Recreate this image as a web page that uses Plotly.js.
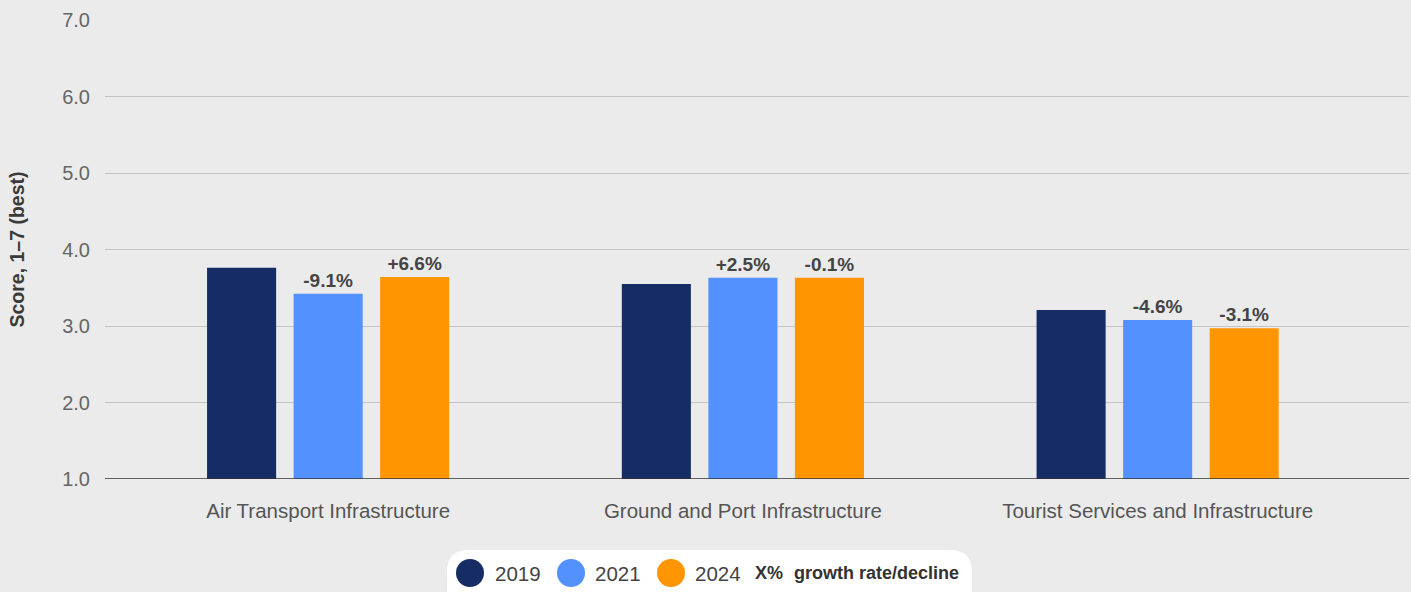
<!DOCTYPE html>
<html>
<head>
<meta charset="utf-8">
<script src="https://cdn.plot.ly/plotly-3.0.1.min.js"></script>
<style>
html,body{margin:0;padding:0;background:#ebebeb;}
#chart{width:1411px;height:592px;}
</style>
</head>
<body>
<div id="chart"></div>
<script>
// ---- data ----
const categories = ["Air Transport Infrastructure", "Ground and Port Infrastructure", "Tourist Services and Infrastructure"];
const years = ["2019", "2021", "2024"];
const scores2019 = [3.76, 3.55, 3.21];
const scores2021 = [3.42, 3.63, 3.08];
const scores2024 = [3.64, 3.63, 2.97];
const growth2021 = ["-9.1%", "+2.5%", "-4.6%"];
const growth2024 = ["+6.6%", "-0.1%", "-3.1%"];
const yTickVals = [1, 2, 3, 4, 5, 6, 7];
const yTickText = ["1.0", "2.0", "3.0", "4.0", "5.0", "6.0", "7.0"];
const legendNote = ["X%", "growth rate/decline"];

// ---- style ----
const colors = ["#152d64", "#5291ff", "#ff9500"];
const FONT = "Liberation Sans, Arial, sans-serif";
const W = 1411, H = 592;
const M = {l: 105, r: 2, t: 20, b: 113};
const plotW = W - M.l - M.r, plotH = H - M.t - M.b;
const px = x => (x - M.l) / plotW;
const py = y => (H - M.b - y) / plotH;

const seriesVals = [scores2019, scores2021, scores2024];
const seriesText = [null, growth2021, growth2024];

const traces = years.map((yr, i) => {
  const t = {
    type: "bar",
    name: yr,
    x: categories,
    y: seriesVals[i],
    marker: {color: colors[i]},
    showlegend: false,
    hoverinfo: "x+y+name",
    cliponaxis: false
  };
  if (seriesText[i]) {
    t.text = seriesText[i];
    t.textposition = "outside";
    t.textfont = {family: FONT, size: 19, color: "#444444", weight: "bold"};
  }
  return t;
});

// ---- custom legend ----
const shapes = [];
const annotations = [];
(function(){
  const x0 = 447, x1 = 972, y0 = 550, y1 = 620, r = 22;
  const X = v => px(v), Y = v => py(v);
  const path = `M ${X(x0 + r)},${Y(y0)} L ${X(x1 - r)},${Y(y0)} Q ${X(x1)},${Y(y0)} ${X(x1)},${Y(y0 + r)} ` +
    `L ${X(x1)},${Y(y1 - r)} Q ${X(x1)},${Y(y1)} ${X(x1 - r)},${Y(y1)} L ${X(x0 + r)},${Y(y1)} ` +
    `Q ${X(x0)},${Y(y1)} ${X(x0)},${Y(y1 - r)} L ${X(x0)},${Y(y0 + r)} Q ${X(x0)},${Y(y0)} ${X(x0 + r)},${Y(y0)} Z`;
  shapes.push({type: "path", xref: "paper", yref: "paper", path: path,
    fillcolor: "#ffffff", line: {width: 0}, layer: "above"});
})();
const circleCx = [470, 571, 671];
const textX = [494, 594, 694];
const cy = 573, rad = 14;
years.forEach((yr, i) => {
  shapes.push({type: "circle", xref: "paper", yref: "paper",
    x0: px(circleCx[i] - rad), x1: px(circleCx[i] + rad),
    y0: py(cy + rad), y1: py(cy - rad),
    fillcolor: colors[i], line: {width: 0}, layer: "above"});
  annotations.push({xref: "paper", yref: "paper", x: px(textX[i]), y: py(cy),
    xanchor: "left", yanchor: "middle", showarrow: false, text: yr,
    font: {family: FONT, size: 20.5, color: "#444444"}, borderpad: 0});
});
annotations.push({xref: "paper", yref: "paper", x: px(754), y: py(cy),
  xanchor: "left", yanchor: "middle", showarrow: false, text: legendNote[0],
  font: {family: FONT, size: 18, color: "#333333", weight: "bold"}, borderpad: 0});
annotations.push({xref: "paper", yref: "paper", x: px(793), y: py(cy),
  xanchor: "left", yanchor: "middle", showarrow: false, text: legendNote[1],
  font: {family: FONT, size: 18, color: "#333333", weight: "bold"}, borderpad: 0});

const layout = {
  width: W, height: H,
  margin: M,
  paper_bgcolor: "#ebebeb",
  plot_bgcolor: "#ebebeb",
  barmode: "group",
  bargap: 0.374,
  bargroupgap: 0.202,
  font: {family: FONT, color: "#555555"},
  xaxis: {
    type: "category",
    range: [-0.538, 2.606],
    showgrid: false,
    showline: false,
    zeroline: false,
    ticks: "",
    tickfont: {family: FONT, size: 20.5, color: "#555555"},
    ticklabelstandoff: 17,
    fixedrange: true
  },
  yaxis: {
    range: [1, 7],
    tickvals: yTickVals,
    ticktext: yTickText,
    showgrid: true,
    gridcolor: "#c4c4c4",
    gridwidth: 1,
    zeroline: false,
    showline: false,
    ticks: "",
    tickfont: {family: FONT, size: 20, color: "#666666"},
    ticklabelstandoff: 14,
    title: {text: "Score, 1–7 (best)", standoff: 32,
      font: {family: FONT, size: 19.5, color: "#3a3a3a", weight: "bold"}},
    fixedrange: true
  },
  shapes: [
    {type: "line", xref: "paper", yref: "y", x0: 0, x1: 1, y0: 1, y1: 1,
      line: {color: "#333333", width: 1.5}, layer: "above"}
  ].concat(shapes),
  annotations: annotations,
  showlegend: false
};

Plotly.newPlot("chart", traces, layout, {displayModeBar: false, staticPlot: true});
</script>
</body>
</html>
